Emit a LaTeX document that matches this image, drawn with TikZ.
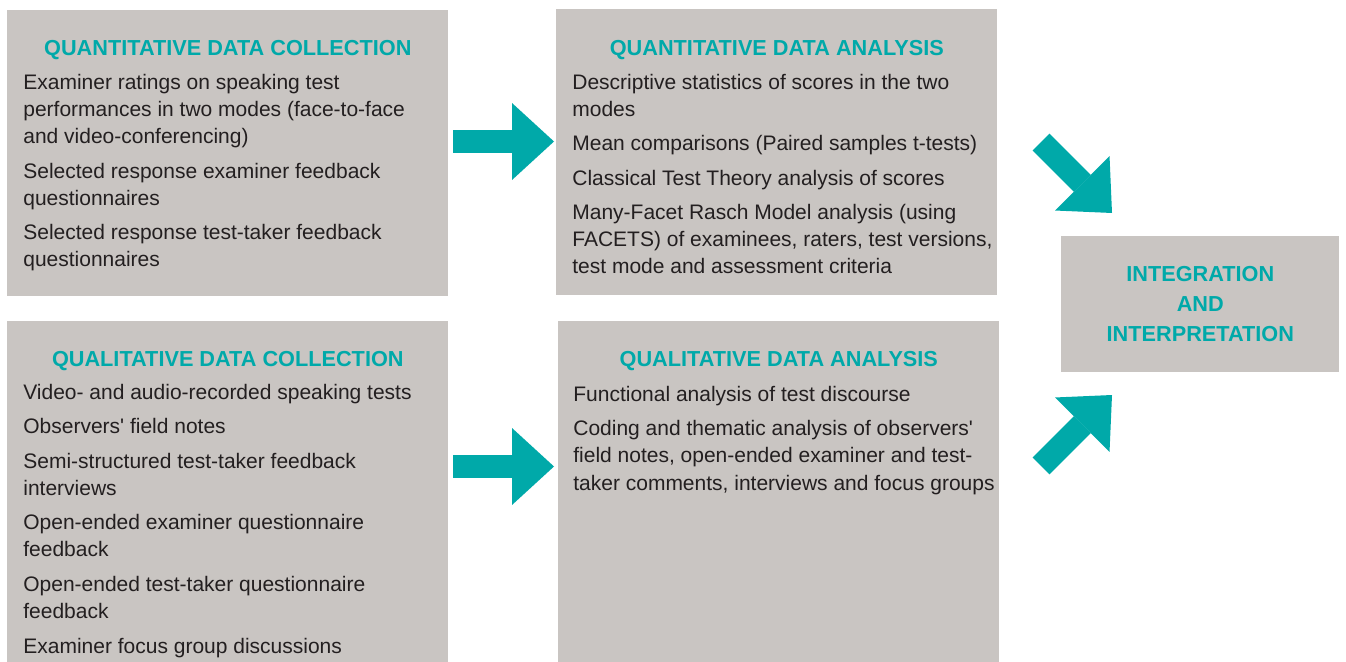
\documentclass[tikz,border=0pt]{standalone}
\usepackage{fontspec}
\setmainfont{Liberation Sans}
\usepackage[HTML]{xcolor}
\usepackage{tikz}
\usetikzlibrary{positioning, arrows.meta, calc}

\definecolor{panelgrey}{HTML}{C9C5C2}
\definecolor{headteal}{HTML}{00A9A9}
\definecolor{bodygrey}{HTML}{231F20}

\begin{document}
\begin{tikzpicture}[x=0.02cm, y=-0.02cm,
  panel/.style={fill=panelgrey, inner sep=0pt, anchor=north west, minimum width=8.82cm},
  heading/.style={anchor=base, inner sep=0pt, text=headteal, font=\fontsize{12.35}{17.07}\selectfont\bfseries},
  body/.style={anchor=base west, align=left, inner sep=0pt, text=bodygrey, font=\fontsize{11.95}{15.37}\selectfont},
  bigarrow/.style={headteal, line width=0.48cm, -{Triangle[width=1.54cm, length=0.84cm, line width=0pt]}}]

\useasboundingbox (0,0) rectangle (1346,662);

% boxes
\node[panel, minimum height=5.72cm] (QNC) at (7,10) {};
\node[panel, minimum height=5.72cm] (QNA) at (556,9) {};
\node[panel, minimum height=6.82cm] (QLC) at (7,321) {};
\node[panel, minimum height=6.82cm] (QLA) at (558,321) {};
\node[panel, minimum width=5.56cm, minimum height=2.72cm] (INT) at (1061,236) {};

% headings
\node[heading] (QNCh) at ($(QNC.north)+(0,46)$) {QUANTITATIVE DATA COLLECTION};
\node[heading] (QNAh) at ($(QNA.north)+(0,47)$) {QUANTITATIVE DATA ANALYSIS};
\node[heading] (QLCh) at ($(QLC.north)+(0,45)$) {QUALITATIVE DATA COLLECTION};
\node[heading] (QLAh) at ($(QLA.north)+(0,45)$) {QUALITATIVE DATA ANALYSIS};
\node[heading, anchor=center, align=center] (INTh) at (INT.center) {INTEGRATION\\AND\\INTERPRETATION};

% lists (base = last line)
\node[body] (QNCt) at ($(QNC.north west)+(16,257)$) {Examiner ratings on speaking test\\
performances in two modes (face-to-face\\
and video-conferencing)\\[4.3pt]
Selected response examiner feedback\\
questionnaires\\[4.3pt]
Selected response test-taker feedback\\
questionnaires};

\node[body] (QNAt) at ($(QNA.north west)+(16,265)$) {Descriptive statistics of scores in the two\\
modes\\[4.3pt]
Mean comparisons (Paired samples t-tests)\\[4.3pt]
Classical Test Theory analysis of scores\\[4.3pt]
Many-Facet Rasch Model analysis (using\\
FACETS) of examinees, raters, test versions,\\
test mode and assessment criteria};

\node[body] (QLCt) at ($(QLC.north west)+(16,332)$) {Video- and audio-recorded speaking tests\\[4.3pt]
Observers\textquotesingle\ field notes\\[4.3pt]
Semi-structured test-taker feedback\\
interviews\\[4.3pt]
Open-ended examiner questionnaire\\
feedback\\[4.3pt]
Open-ended test-taker questionnaire\\
feedback\\[4.3pt]
Examiner focus group discussions};

\node[body] (QLAt) at ($(QLA.north west)+(15,169)$) {Functional analysis of test discourse\\[4.3pt]
Coding and thematic analysis of observers\textquotesingle\\
field notes, open-ended examiner and test-\\
taker comments, interviews and focus groups};

% arrows
\coordinate (A1) at (453,141.5);
\coordinate (B1) at (554,141.5);
\coordinate (A2) at (453,466.5);
\coordinate (B2) at (554,466.5);
\coordinate (A3) at (1041,142);
\coordinate (B3) at (1112,213);
\coordinate (A4) at (1041,466);
\coordinate (B4) at (1112,395);

\draw[bigarrow] (A1) -- (B1);
\draw[bigarrow] (A2) -- (B2);
\draw[bigarrow] (A3) -- (B3); % into integration
\draw[bigarrow] (A4) -- (B4);
\end{tikzpicture}
\end{document}
